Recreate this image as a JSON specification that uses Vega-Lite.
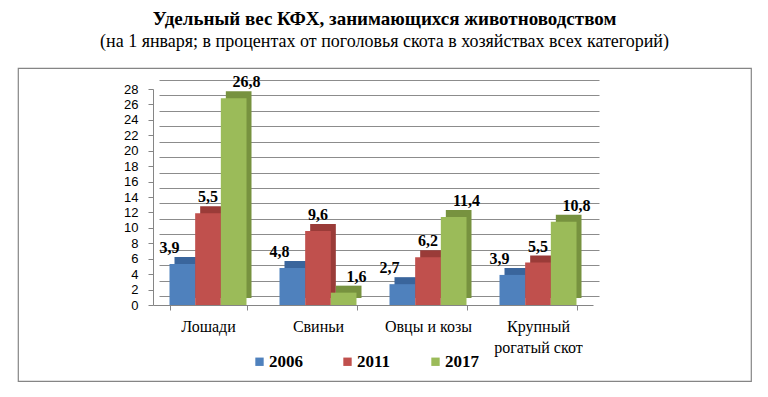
{
  "$schema": "https://vega.github.io/schema/vega-lite/v6.json",
  "width": 733,
  "height": 313,
  "autosize": {"type": "none"},
  "padding": {"left": 18, "top": 68, "right": 17, "bottom": 16},
  "background": "white",
  "config": {
    "view": {"stroke": "#858585", "strokeWidth": 1.2}
  },
  "title": {
    "text": "Удельный вес КФХ, занимающихся животноводством",
    "subtitle": "(на 1 января; в процентах от поголовья скота в хозяйствах всех категорий)",
    "anchor": "middle",
    "font": "Liberation Serif",
    "fontSize": 19,
    "fontWeight": "bold",
    "color": "#000",
    "subtitleFont": "Liberation Serif",
    "subtitleFontSize": 18,
    "subtitleColor": "#000",
    "subtitlePadding": 4,
    "offset": -100
  },
  "data": {
    "values": [
      {"cat": "Лошади", "year": "2006", "value": 5.3, "label": "3,9"},
      {"cat": "Лошади", "year": "2011", "value": 11.9, "label": "5,5"},
      {"cat": "Лошади", "year": "2017", "value": 26.8, "label": "26,8"},
      {"cat": "Свиньи", "year": "2006", "value": 4.8, "label": "4,8"},
      {"cat": "Свиньи", "year": "2011", "value": 9.6, "label": "9,6"},
      {"cat": "Свиньи", "year": "2017", "value": 1.6, "label": "1,6"},
      {"cat": "Овцы и козы", "year": "2006", "value": 2.7, "label": "2,7"},
      {"cat": "Овцы и козы", "year": "2011", "value": 6.2, "label": "6,2"},
      {"cat": "Овцы и козы", "year": "2017", "value": 11.4, "label": "11,4"},
      {"cat": "Крупный рогатый скот", "year": "2006", "value": 3.9, "label": "3,9"},
      {"cat": "Крупный рогатый скот", "year": "2011", "value": 5.5, "label": "5,5"},
      {"cat": "Крупный рогатый скот", "year": "2017", "value": 10.8, "label": "10,8"}
    ]
  },
  "encoding": {
    "x": {
      "field": "cat",
      "type": "nominal",
      "sort": null,
      "scale": {"range": [135, 575], "paddingInner": 0.3, "paddingOuter": 0.15},
      "axis": {
        "title": null,
        "orient": "bottom",
        "offset": -76,
        "grid": false,
        "tickBand": "extent",
        "tickSize": 5,
        "tickColor": "#858585",
        "domainColor": "#858585",
        "labelFont": "Liberation Serif",
        "labelFontSize": 16,
        "labelColor": "#000",
        "labelPadding": 8,
        "labelAngle": 0,
        "labelLineHeight": 21,
        "labelExpr": "datum.value == 'Крупный рогатый скот' ? ['Крупный', 'рогатый скот'] : datum.value"
      }
    }
  },
  "layer": [
    {
      "mark": {"type": "bar", "opacity": 0},
      "encoding": {
        "y": {
          "field": "value",
          "type": "quantitative",
          "scale": {"domain": [0, 28], "range": [222, 6], "nice": false},
          "axis": {
            "title": null,
            "orient": "left",
            "grid": true,
            "labels": false,
            "ticks": false,
            "domain": false,
            "values": [0, 2, 4, 6, 8, 10, 12, 14, 16, 18, 20, 22, 24, 26, 28],
            "gridColor": "#8c8c8c",
            "gridOpacity": 1,
            "translate": 6.5
          }
        }
      }
    },
    {
      "encoding": {
        "y": {
          "field": "value",
          "type": "quantitative",
          "scale": {"domain": [0, 28], "range": [237, 21], "nice": false},
          "axis": {
            "title": null,
            "orient": "left",
            "offset": -135,
            "grid": false,
            "values": [0, 2, 4, 6, 8, 10, 12, 14, 16, 18, 20, 22, 24, 26, 28],
            "labelOverlap": false,
            "labelBound": false,
            "tickSize": 5,
            "tickColor": "#858585",
            "domainColor": "#858585",
            "labelFont": "Liberation Sans",
            "labelFontSize": 13,
            "labelColor": "#000",
            "labelPadding": 10
          }
        }
      },
      "layer": [
        {
          "mark": {"type": "bar", "yOffset": -7, "y2Offset": -7},
          "encoding": {
            "xOffset": {"field": "year", "type": "nominal", "scale": {"range": [5, 82], "paddingInner": 0, "paddingOuter": 0}},
            "color": {"field": "year", "type": "nominal", "scale": {"domain": ["2006", "2011", "2017"], "range": ["#3a659c", "#9a3b38", "#77923f"]}, "legend": null}
          }
        },
        {
          "mark": {"type": "bar"},
          "encoding": {
            "xOffset": {"field": "year", "type": "nominal", "scale": {"range": [0, 77], "paddingInner": 0, "paddingOuter": 0}},
            "color": {
              "field": "year",
              "type": "nominal",
              "scale": {"domain": ["2006", "2011", "2017"], "range": ["#4f81bd", "#c0504d", "#9bbb59"]},
              "legend": {
                "orient": "none",
                "legendX": 233,
                "legendY": 285,
                "direction": "horizontal",
                "title": null,
                "symbolType": "square",
                "symbolSize": 70,
                "symbolStrokeWidth": 0,
                "labelFont": "Liberation Serif",
                "labelFontSize": 17,
                "labelFontWeight": "bold",
                "labelColor": "#000",
                "labelOffset": 1,
                "columnPadding": 36
              }
            }
          }
        },
        {
          "mark": {"type": "text", "baseline": "bottom", "dy": -8, "font": "Liberation Serif", "fontSize": 16, "fontWeight": "bold", "color": "#000"},
          "encoding": {
            "xOffset": {"field": "year", "type": "nominal", "scale": {"range": [0, 77], "paddingInner": 0, "paddingOuter": 0}},
            "text": {"field": "label"}
          }
        }
      ],
      "resolve": {"scale": {"xOffset": "independent", "color": "independent"}}
    }
  ],
  "resolve": {"scale": {"y": "independent"}}
}
